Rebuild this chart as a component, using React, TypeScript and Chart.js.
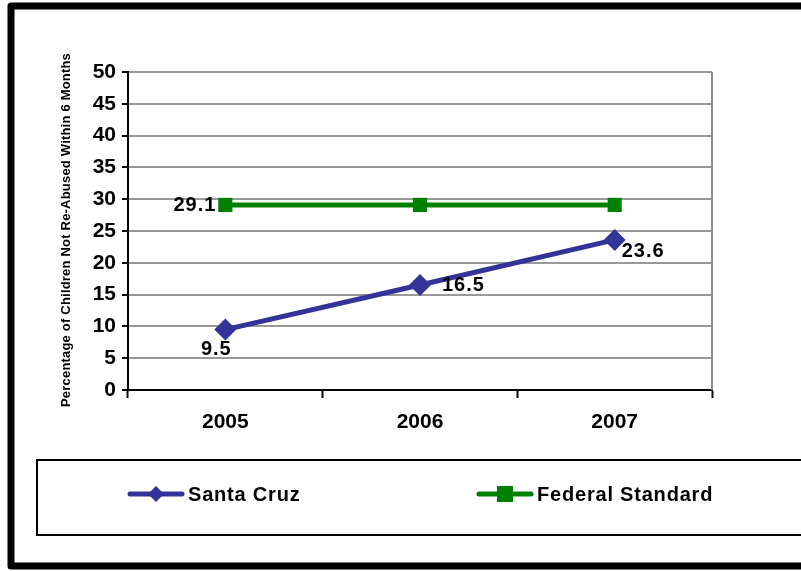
import React, { useEffect, useRef } from "react";
import { Chart, registerables } from "chart.js";

Chart.register(...registerables);

const years = ["2005", "2006", "2007"];
const santaCruz = [9.5, 16.5, 23.6];
const federalStandard = [29.1, 29.1, 29.1];
const yTitle = "Percentage of Children Not Re-Abused Within 6 Months";
const seriesNames = ["Santa Cruz", "Federal Standard"];
const seriesColors = ["#333399", "#008000"];

const FONT = "'Liberation Sans', Arial, sans-serif";

const decorPlugin = {
  id: "decor",
  beforeDraw(chart: any) {
    const ctx = chart.ctx;
    ctx.save();
    ctx.fillStyle = "#fff";
    ctx.fillRect(0, 0, chart.width, chart.height);
    ctx.restore();
  },
  afterDraw(chart: any) {
    const ctx = chart.ctx;
    const area = chart.chartArea;
    ctx.save();
    // outer frame
    ctx.strokeStyle = "#000";
    ctx.lineWidth = 7;
    ctx.lineJoin = "round";
    ctx.strokeRect(11, 6, chart.width + 20, 560);
    // right plot border
    ctx.strokeStyle = "#8c8c8c";
    ctx.lineWidth = 2;
    ctx.beginPath();
    ctx.moveTo(area.right, area.top);
    ctx.lineTo(area.right, area.bottom);
    ctx.stroke();
    // y title
    ctx.fillStyle = "#000";
    ctx.font = `bold 13px ${FONT}`;
    (ctx as any).letterSpacing = "0.2px";
    ctx.textAlign = "center";
    ctx.textBaseline = "middle";
    ctx.translate(66, 230);
    ctx.rotate(-Math.PI / 2);
    ctx.fillText(yTitle, 0, 0);
    ctx.restore();

    // data labels
    ctx.save();
    ctx.fillStyle = "#000";
    ctx.font = `bold 20px ${FONT}`;
    (ctx as any).letterSpacing = "1px";
    ctx.textBaseline = "middle";
    const m0 = chart.getDatasetMeta(0).data;
    const m1 = chart.getDatasetMeta(1).data;
    const fmt = (v: number) => v.toFixed(1);
    // federal first point
    ctx.textAlign = "right";
    ctx.fillText(fmt(federalStandard[0]), m1[0].x - 9, m1[0].y + 1);
    // santa cruz
    ctx.textAlign = "center";
    ctx.fillText(fmt(santaCruz[0]), m0[0].x - 9, m0[0].y + 20);
    ctx.textAlign = "left";
    ctx.fillText(fmt(santaCruz[1]), m0[1].x + 22, m0[1].y);
    ctx.fillText(fmt(santaCruz[2]), m0[2].x + 7, m0[2].y + 12);
    ctx.restore();

    // legend box
    ctx.save();
    ctx.strokeStyle = "#000";
    ctx.lineWidth = 2;
    ctx.strokeRect(37, 460, chart.width, 75);
    const items = [
      { x: 128, style: "rectRot" },
      { x: 477, style: "rect" },
    ];
    items.forEach((it, i) => {
      const y = 494;
      ctx.strokeStyle = seriesColors[i];
      ctx.fillStyle = seriesColors[i];
      ctx.lineWidth = 5;
      ctx.lineCap = "round";
      ctx.beginPath();
      ctx.moveTo(it.x + 2, y);
      ctx.lineTo(it.x + 54, y);
      ctx.stroke();
      const cx = it.x + 28;
      if (it.style === "rect") {
        ctx.fillRect(cx - 8, y - 8, 16, 16);
      } else {
        ctx.beginPath();
        ctx.moveTo(cx, y - 8);
        ctx.lineTo(cx + 8, y);
        ctx.lineTo(cx, y + 8);
        ctx.lineTo(cx - 8, y);
        ctx.closePath();
        ctx.fill();
      }
      ctx.fillStyle = "#000";
      ctx.font = `bold 20px ${FONT}`;
      (ctx as any).letterSpacing = "0.8px";
      ctx.textAlign = "left";
      ctx.textBaseline = "middle";
      ctx.fillText(seriesNames[i], it.x + 60, y + 1);
    });
    ctx.restore();
  },
};

export default function App() {
  const ref = useRef<HTMLCanvasElement | null>(null);
  useEffect(() => {
    if (!ref.current) return;
    const chart = new Chart(ref.current, {
      type: "line",
      data: {
        labels: years,
        datasets: [
          {
            label: seriesNames[0],
            data: santaCruz,
            borderColor: seriesColors[0],
            backgroundColor: seriesColors[0],
            borderWidth: 5,
            pointStyle: "rectRot",
            pointRadius: 11,
            pointBorderWidth: 0,
            tension: 0,
          },
          {
            label: seriesNames[1],
            data: federalStandard,
            borderColor: seriesColors[1],
            backgroundColor: seriesColors[1],
            borderWidth: 5,
            pointStyle: "rect",
            pointRadius: 10,
            pointBorderWidth: 0,
            tension: 0,
          },
        ],
      },
      options: {
        responsive: false,
        animation: false,
        events: [],
        layout: { padding: { left: 50, right: 89, top: 72, bottom: 121 } },
        plugins: {
          legend: { display: false },
          tooltip: { enabled: false },
          title: { display: false },
        },
        scales: {
          x: {
            offset: true,
            grid: {
              offset: true,
              drawOnChartArea: false,
              drawTicks: true,
              tickLength: 8,
              tickColor: "#000",
              tickWidth: 2,
            },
            border: { color: "#000", width: 2 },
            ticks: {
              color: "#000",
              padding: 12,
              font: { family: FONT, size: 21, weight: "bold" },
            },
            afterFit: (s: any) => {
              s.height = 60;
            },
          },
          y: {
            min: 0,
            max: 50,
            ticks: {
              stepSize: 5,
              color: "#000",
              padding: 6,
              font: { family: FONT, size: 21, weight: "bold" },
            },
            grid: {
              color: "#999",
              lineWidth: 2,
              tickLength: 6,
              tickColor: "#000",
              tickWidth: 2,
            },
            border: { color: "#000", width: 2 },
            afterFit: (s: any) => {
              s.width = 78;
            },
          },
        },
      },
      plugins: [decorPlugin],
    });
    return () => chart.destroy();
  }, []);
  return (
    <div style={{ position: "absolute", left: 0, top: 0, width: 801, height: 571 }}>
      <canvas ref={ref} width={801} height={571} />
    </div>
  );
}
